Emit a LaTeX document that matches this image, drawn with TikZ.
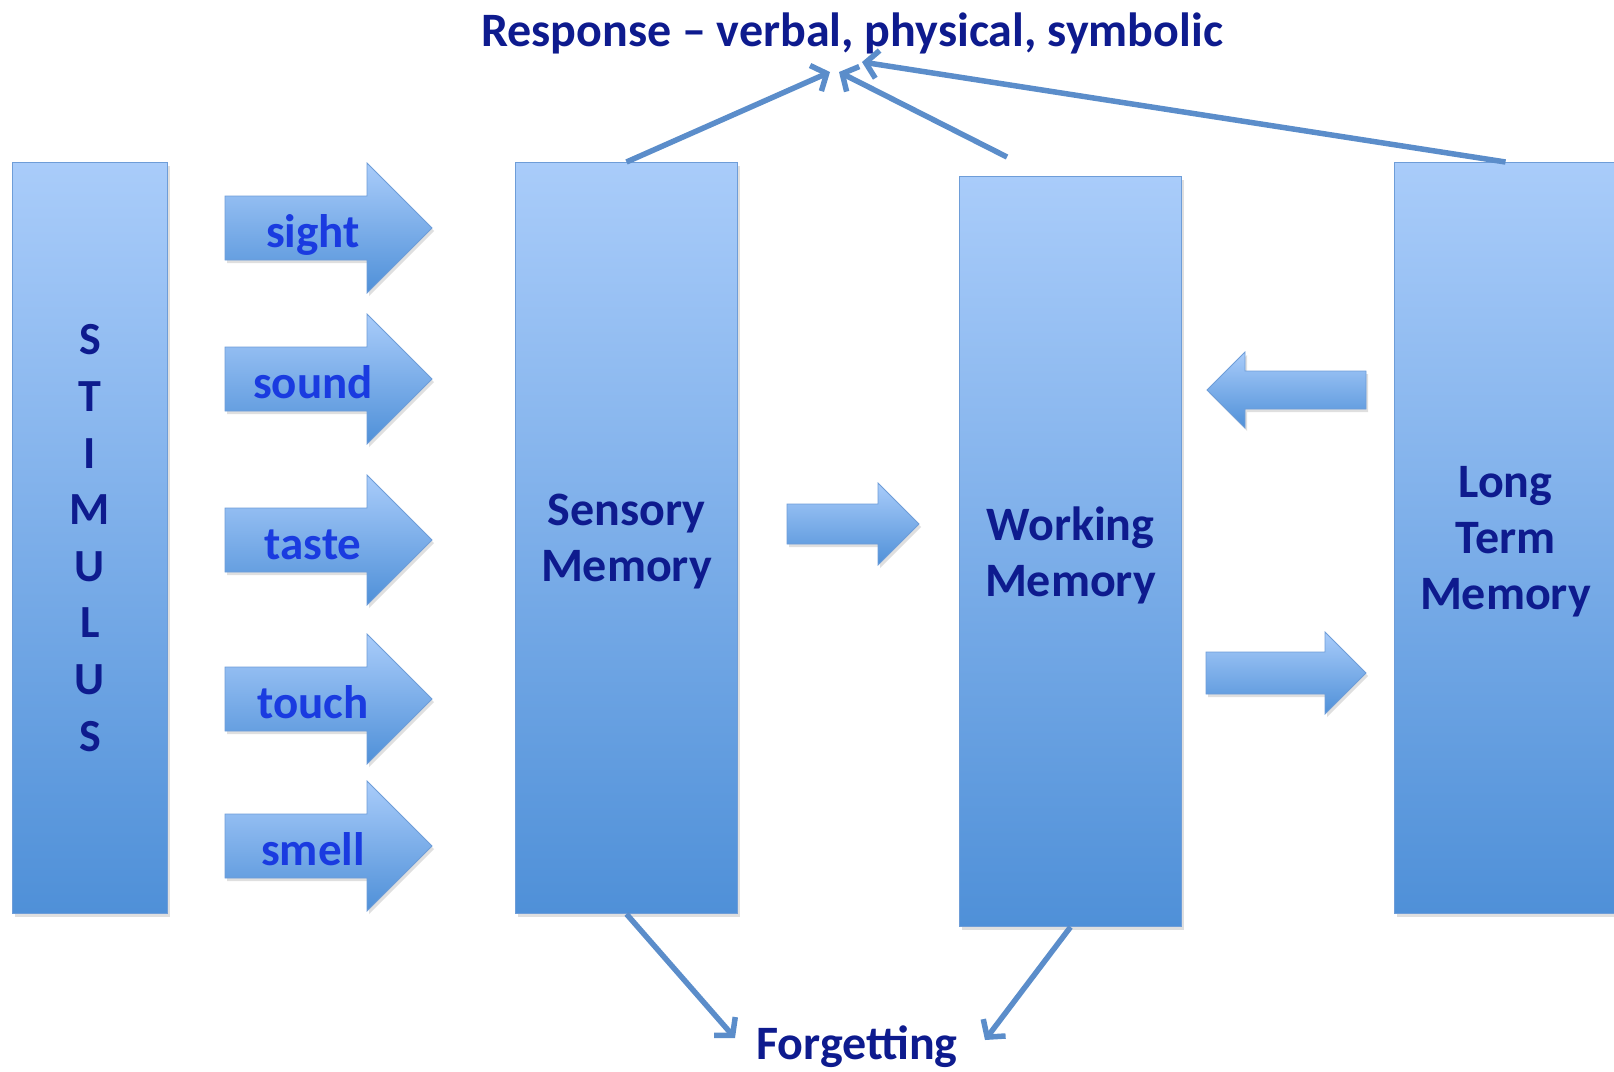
\documentclass[tikz,border=0pt]{standalone}
\usepackage{fontspec}
\setmainfont{Carlito}
\usetikzlibrary{arrows.meta,shadows}
\definecolor{topblue}{HTML}{A9CCFA}
\definecolor{botblue}{HTML}{4F90D8}
\definecolor{edgeblue}{HTML}{6E9DD8}
\definecolor{navy}{HTML}{0E1B8E}
\definecolor{brightblue}{HTML}{1A3BE0}
\definecolor{linkblue}{HTML}{5B8DCA}
\tikzset{
  memobox/.style={draw=edgeblue, line width=1pt, top color=topblue, bottom color=botblue,
    inner sep=0pt, anchor=north west, align=center, text=navy,
    font=\bfseries\fontsize{48}{56}\selectfont,
    drop shadow={shadow xshift=2pt, shadow yshift=-3pt, opacity=0.25}},
  arrowshape/.style={draw=edgeblue, line width=0.8pt, top color=topblue, bottom color=botblue,
    drop shadow={shadow xshift=2pt, shadow yshift=-3pt, opacity=0.25}},
  senselabel/.style={anchor=base, text=brightblue, font=\bfseries\fontsize{47}{56}\selectfont},
  titlelabel/.style={anchor=base, text=navy, font=\bfseries\fontsize{48}{56}\selectfont},
  link/.style={draw=linkblue, line width=5.5pt, -{Straight Barb[length=12pt,width=28pt]}},
}
\newcommand\fatarrow[6]{%
  \path[arrowshape] (#1,#4-#5) -- (#2,#4-#5) -- (#2,#4-#6) -- (#3,#4) -- (#2,#4+#6) -- (#2,#4+#5) -- (#1,#4+#5) -- cycle;}
\begin{document}
\begin{tikzpicture}[x=1pt,y=-1pt]
\useasboundingbox (0,0) rectangle (1614,1071);
\begin{scope}
\clip (0,0) rectangle (1614,1071);
% boxes
\node[memobox, minimum width=155pt, minimum height=751pt, font=\bfseries\fontsize{46}{56.6}\selectfont] (stim) at (12,162) {S\\T\\I\\M\\U\\L\\U\\S};
\node[memobox, minimum width=222pt, minimum height=751pt, text depth=-10pt] (sens) at (515,162) {Sensory\\Memory};
\node[memobox, minimum width=222pt, minimum height=750pt, text depth=-10pt] (work) at (959,176) {Working\\Memory};
\node[memobox, minimum width=222pt, minimum height=751pt, text depth=-10pt] (ltm) at (1394,162) {Long\\Term\\Memory};
% sense arrows
\fatarrow{225}{367}{432}{228}{32}{65}
\fatarrow{225}{367}{432}{379}{32}{65}
\fatarrow{225}{367}{432}{540}{32}{65}
\fatarrow{225}{367}{432}{699}{32}{65}
\fatarrow{225}{367}{432}{846}{32}{65}
\node[senselabel] (sight) at (313,247) {sight};
\node[senselabel] (sound) at (313,398) {sound};
\node[senselabel] (taste) at (313,559) {taste};
\node[senselabel] (touch) at (313,718) {touch};
\node[senselabel] (smell) at (313,865) {smell};
% block arrows between memories
\fatarrow{787}{878}{919}{524}{20}{41}
\fatarrow{1366}{1245}{1207}{390}{19}{38}
\fatarrow{1206}{1325}{1366}{673}{21}{41}
% labels
\node[titlelabel] (resp) at (852,46) {Response – verbal, physical, symbolic};
\node[titlelabel] (forget) at (857,1059) {Forgetting};
% connector end points
\coordinate (r1) at (830,72);
\coordinate (r2) at (839,72);
\coordinate (r3) at (862,62);
\coordinate (w1) at (1007,157);
\coordinate (f1) at (735,1038);
\coordinate (f2) at (985,1040);
\draw[link] (sens.north) -- (r1);
\draw[link] (w1) -- (r2);
\draw[link] (ltm.north) -- (r3);
\draw[link] (sens.south) -- (f1);
\draw[link] (work.south) -- (f2);
\end{scope}
\end{tikzpicture}
\end{document}
